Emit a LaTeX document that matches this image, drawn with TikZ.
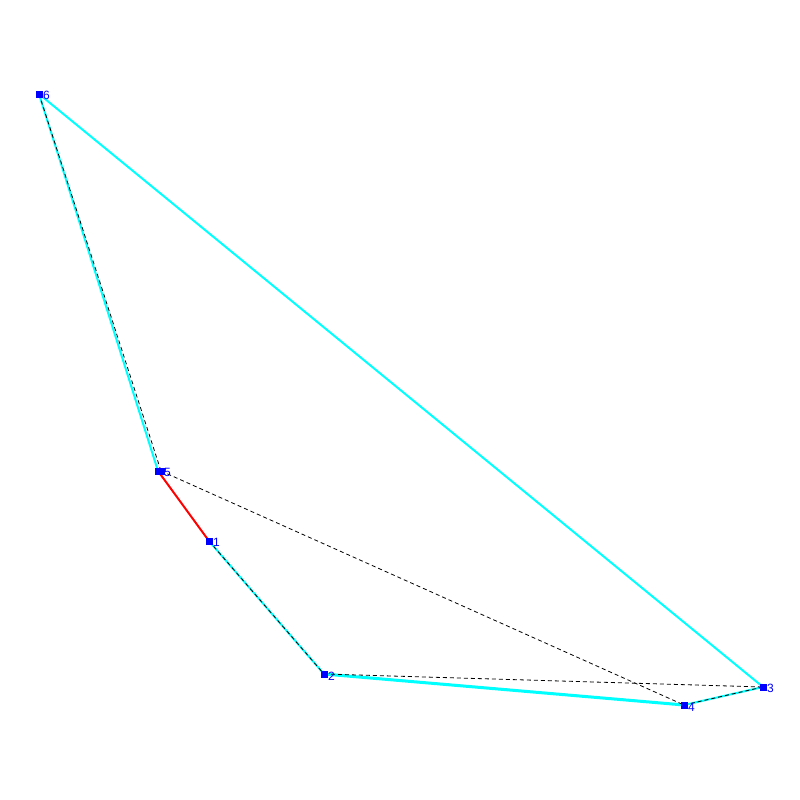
\documentclass[tikz,border=0pt]{standalone}
\usepackage{fontspec}
\setmainfont{Liberation Sans}
\definecolor{hullcyan}{RGB}{0,255,255}
\definecolor{ptblue}{RGB}{0,0,255}
\definecolor{edgered}{RGB}{255,0,0}
\begin{document}
\begin{tikzpicture}[x=1pt,y=-1pt,
  pt/.style={fill=ptblue,draw=none,minimum size=7pt,inner sep=0pt,rectangle},
  lab/.style={text=ptblue,font=\fontsize{12}{12}\selectfont,inner sep=0pt,anchor=west},
  hull/.style={draw=hullcyan,line width=2pt},
  hullthick/.style={draw=hullcyan,line width=3pt},
  redl/.style={draw=edgered,line width=2pt},
  dsh/.style={draw=black,line width=0.8pt,dash pattern=on 4pt off 3pt}]
\useasboundingbox (0,0) rectangle (800,800);
\coordinate (p6) at (39,94);
\coordinate (p5) at (158,471);
\coordinate (p5b) at (161,471);
\coordinate (p1) at (209,541);
\coordinate (p2) at (324,674);
\coordinate (p4) at (684,705);
\coordinate (p3) at (763,687);
% cyan hull
\draw[hull] (p6) -- (p5);
\draw[hull] (p1) -- (p2);
\draw[hullthick] (p2) -- (p4);
\draw[hull] (p4) -- (p3);
\draw[hull] (p3) -- (p6);
\draw[redl] (p5) -- (p1);
% dashed
\draw[dsh] (p6) -- (p5b);
\draw[dsh] (p5b) -- (p4);
\draw[dsh] (p1) -- (p2);
\draw[dsh] (p2) -- (p3);
\draw[dsh] (p4) -- (p3);
% points
\node[pt] (n6) at (p6) {};
\node[pt] (n5) at (p5) {};
\node[pt] (n5b) at (p5b) {};
\node[pt] (n1) at (p1) {};
\node[pt] (n2) at (p2) {};
\node[pt] (n4) at (p4) {};
\node[pt] (n3) at (p3) {};
\node[lab] at (43,95) {6};
\node[lab] at (164,472) {5};
\node[lab] at (213,542) {1};
\node[lab] at (328,676) {2};
\node[lab] at (688,707) {4};
\node[lab] at (767,688) {3};
\end{tikzpicture}
\end{document}
